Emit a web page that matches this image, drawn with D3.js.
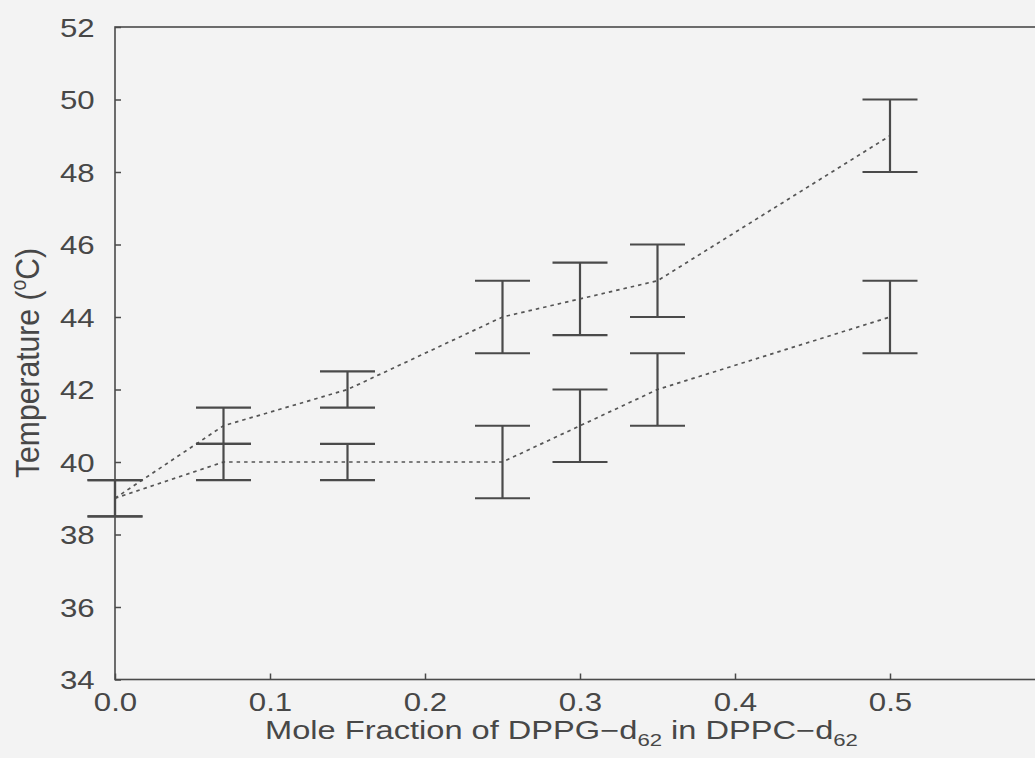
<!DOCTYPE html>
<html><head><meta charset="utf-8">
<script src="https://cdn.jsdelivr.net/npm/d3@7"></script>
<style>
html,body{margin:0;padding:0;background:#f3f3f3;}
svg{display:block;}
text{font-family:"Liberation Sans",Arial,sans-serif;fill:#474747;}
</style></head>
<body>
<svg id="c" width="1035" height="758"></svg>
<script>
const xValues = [0.0, 0.07, 0.15, 0.25, 0.30, 0.35, 0.50];
const upperMid = [39, 41, 42, 44, 44.5, 45, 49];
const upperLo  = [38.5, 40.5, 41.5, 43, 43.5, 44, 48];
const upperHi  = [39.5, 41.5, 42.5, 45, 45.5, 46, 50];
const lowerMid = [39, 40, 40, 40, 41, 42, 44];
const lowerLo  = [38.5, 39.5, 39.5, 39, 40, 41, 43];
const lowerHi  = [39.5, 40.5, 40.5, 41, 42, 43, 45];
const xTicks = [0.0, 0.1, 0.2, 0.3, 0.4, 0.5];
const yTicks = [34, 36, 38, 40, 42, 44, 46, 48, 50, 52];

const svg = d3.select("#c");
const ink = "#4a4a4a";
const stretch = 1.2;
const x = d3.scaleLinear().domain([0, 0.6]).range([115, 1045]);
const y = d3.scaleLinear().domain([34, 52]).range([679.5, 27]);

// frame
svg.append("rect").attr("x", x(0)).attr("y", y(52))
  .attr("width", x(0.6) - x(0)).attr("height", y(34) - y(52))
  .attr("fill", "none").attr("stroke", ink).attr("stroke-width", 1.6);

// axes
const yAxis = d3.axisLeft(y).tickValues(yTicks).tickSize(-6).tickPadding(17).tickFormat(d3.format("d"));
const gy = svg.append("g").attr("transform", `translate(${x(0)},0)`).call(yAxis);
gy.attr("font-family", null).attr("font-size", null);
gy.select(".domain").remove();
gy.selectAll("line").attr("stroke", ink).attr("stroke-width", 1.5);
gy.selectAll("text").attr("font-size", 26).style("fill", "#474747").attr("dy", "0.36em")
  .attr("transform", `scale(${stretch},1)`);

const xAxis = d3.axisBottom(x).tickValues(xTicks).tickSize(-6).tickPadding(13.5).tickFormat(d3.format(".1f"));
const gx = svg.append("g").attr("transform", `translate(0,${y(34)})`).call(xAxis);
gx.attr("font-family", null).attr("font-size", null);
gx.select(".domain").remove();
gx.selectAll("line").attr("stroke", ink).attr("stroke-width", 1.5);
gx.selectAll("text").attr("font-size", 26).style("fill", "#474747")
  .attr("transform", `scale(${stretch},1)`);

// dotted lines
const line = d3.line().x(d => x(d[0])).y(d => y(d[1]));
[upperMid, lowerMid].forEach(s => {
  svg.append("path").datum(xValues.map((v, i) => [v, s[i]]))
    .attr("d", line).attr("fill", "none").attr("stroke", "#555")
    .attr("stroke-width", 1.7).attr("stroke-dasharray", "3.5,4");
});

// error bars
const capHalf = 27.5;
function bars(lo, hi) {
  const g = svg.append("g").attr("stroke", ink).attr("stroke-width", 2.2);
  xValues.forEach((v, i) => {
    g.append("line").attr("x1", x(v)).attr("x2", x(v)).attr("y1", y(lo[i])).attr("y2", y(hi[i]));
    g.append("line").attr("x1", x(v) - capHalf).attr("x2", x(v) + capHalf).attr("y1", y(lo[i])).attr("y2", y(lo[i]));
    g.append("line").attr("x1", x(v) - capHalf).attr("x2", x(v) + capHalf).attr("y1", y(hi[i])).attr("y2", y(hi[i]));
  });
}
bars(upperLo, upperHi);
bars(lowerLo, lowerHi);

// axis titles
const xt = svg.append("text").attr("x", 0).attr("y", 0).attr("text-anchor", "middle").attr("font-size", 25);
xt.append("tspan").text("Mole Fraction of DPPG\u2212d");
xt.append("tspan").attr("font-size", 17).attr("dy", 7).text("62");
xt.append("tspan").attr("dy", -7).text(" in DPPC\u2212d");
xt.append("tspan").attr("font-size", 17).attr("dy", 7).text("62");
const xtLen = xt.node().getComputedTextLength();
xt.attr("transform", `translate(561.5,739) scale(${593 / xtLen},1)`);

const yt = svg.append("text").attr("x", 0).attr("y", 0)
  .attr("text-anchor", "middle").attr("font-size", 28);
yt.append("tspan").text("Temperature (");
yt.append("tspan").attr("font-size", 18).attr("dy", -11).text("o");
yt.append("tspan").attr("dy", 11).text("C)");
const ytLen = yt.node().getComputedTextLength();
yt.attr("transform", `translate(39,363) scale(1.18,1) rotate(-90) scale(${230 / ytLen},1)`);
</script>
</body></html>
